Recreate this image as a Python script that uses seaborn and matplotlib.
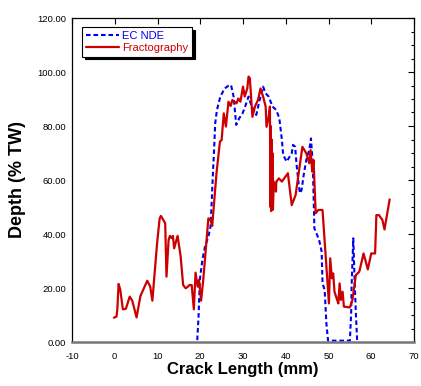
import numpy as np
import pandas as pd
import matplotlib
matplotlib.use("Agg")
import matplotlib.pyplot as plt
import seaborn as sns
from matplotlib.ticker import MultipleLocator

sns.set_theme(style="white")
plt.rcParams['font.family'] = ['Liberation Sans', 'DejaVu Sans']
plt.rcParams['axes.unicode_minus'] = False

# Fractography (red solid)
frac_x = [-0.2, 0.4, 0.6, 0.9, 1.3, 1.9, 2.6, 3.5, 4.1, 5.1, 6.0, 7.6, 8.3, 8.8, 9.9, 10.5, 10.8,
          11.8, 12.1, 12.6, 12.9, 13.3, 13.6, 13.9, 14.7, 15.4, 16.0, 16.6, 17.1, 17.5, 18.0, 18.5,
          18.9, 19.4, 19.7, 20.2, 20.7, 21.9, 22.4, 22.8, 23.8, 24.6, 25.0, 25.5, 26.0, 26.6, 27.1,
          27.5, 28.5, 28.9, 29.4, 30.0, 30.4, 31.0, 31.3, 31.6, 32.2, 32.8, 33.5, 34.1, 34.7, 35.3,
          35.5, 36.0, 36.3, 36.4, 36.5, 36.6, 36.7, 36.8, 36.9, 37.0, 37.2, 37.7, 37.8, 38.4, 39.1,
          40.5, 41.4, 42.3, 43.9, 44.8, 45.5, 45.8, 46.2, 46.5, 47.0, 47.6, 48.6, 50.1, 50.4, 50.8,
          51.1, 51.4, 51.9, 52.3, 52.6, 52.9, 53.3, 53.6, 55.0, 55.6, 56.4, 57.2, 58.2, 59.2, 60.0,
          60.9, 61.2, 61.8, 62.6, 63.1, 64.3]
frac_y = [9.0, 9.4, 12.1, 21.5, 19.3, 12.1, 12.3, 16.8, 15.3, 9.1, 17.0, 22.7, 20.5, 15.3, 36.5, 45.8, 46.7,
          44.0, 24.2, 37.8, 39.3, 38.5, 39.3, 34.7, 39.3, 31.9, 21.1, 19.9, 20.5, 21.1, 21.1, 12.1,
          25.7, 20.5, 23.0, 15.3, 23.0, 45.8, 45.2, 43.0, 62.5, 74.2, 74.8, 84.7, 79.8, 89.0, 87.4,
          89.6, 88.4, 90.2, 89.0, 94.6, 90.9, 93.9, 98.3, 97.7, 83.4, 87.2, 89.6, 93.9, 90.9, 87.2,
          79.7, 83.4, 87.2, 50.0, 80.0, 48.5, 75.0, 52.0, 70.0, 49.0, 59.4, 55.7, 59.4, 60.6, 59.4,
          62.5, 50.7, 54.4, 72.3, 69.9, 66.2, 71.1, 63.1, 67.4, 47.7, 48.9, 48.9, 14.3, 31.0, 23.6,
          25.4, 18.6, 16.2, 14.3, 21.7, 15.6, 18.6, 13.1, 12.8, 15.6, 24.8, 26.0, 32.8, 26.9, 32.8,
          32.8, 47.0, 47.0, 45.2, 41.7, 52.8]

# EC NDE (blue dashed)
ec_x = [19.3, 19.6, 19.9, 20.5, 21.1, 21.9, 22.4, 22.7, 23.0, 23.2, 23.5, 23.9, 24.7, 25.7, 26.5, 27.2,
        27.8, 28.1, 28.4, 29.1, 29.9, 30.5, 31.3, 31.9, 32.5, 33.1, 33.9, 34.7, 35.3, 36.0, 36.9,
        37.8, 38.5, 39.1, 39.4, 40.2, 41.4, 41.7, 42.2, 42.5, 43.0, 43.3, 43.7, 44.2, 44.8, 45.5,
        45.9, 46.2, 46.4, 46.7, 47.8, 48.4, 48.6, 49.1, 49.5, 49.9, 55.0, 55.3, 55.4, 55.8, 56.1,
        56.4, 56.7]
ec_y = [0.7, 9.4, 23.0, 30.4, 35.3, 39.0, 42.7, 52.6, 63.7, 69.9, 81.0, 85.9, 90.9, 93.9, 94.8, 95.2,
        90.9, 85.9, 80.4, 82.8, 84.7, 87.2, 90.9, 87.8, 85.9, 84.1, 89.6, 94.6, 92.1, 90.9, 87.2,
        85.9, 82.8, 74.8, 69.3, 66.8, 69.9, 73.0, 72.3, 66.2, 58.8, 55.1, 56.3, 61.9, 67.4, 71.1,
        75.4, 68.6, 61.2, 42.1, 37.8, 33.5, 21.7, 19.3, 6.9, 0.5, 0.5, 10.6, 20.5, 38.4, 23.0,
        10.6, 0.5]

fig = plt.figure(figsize=(4.21, 3.86), dpi=100)
ax = fig.add_axes([72/421, 1-342/386, (414-72)/421, (342-18)/386])

sns.lineplot(x=ec_x, y=ec_y, ax=ax, sort=False, estimator=None, color='#0000ee',
             linewidth=1.5, linestyle=(0, (2.2, 1.4)), label='EC NDE')
sns.lineplot(x=frac_x, y=frac_y, ax=ax, sort=False, estimator=None, color='#cc0000',
             linewidth=1.6, label='Fractography')

ax.set_xlim(-10, 70)
ax.set_ylim(0, 120)
ax.xaxis.set_major_locator(MultipleLocator(10))
ax.yaxis.set_major_locator(MultipleLocator(20))
ax.yaxis.set_minor_locator(MultipleLocator(5))
ax.yaxis.set_major_formatter(matplotlib.ticker.FormatStrFormatter('%.2f'))
ax.tick_params(axis='both', which='both', direction='in', top=True, right=True,
               labelsize=6.8, colors='black', length=4, width=0.8, pad=4)
ax.tick_params(axis='y', which='minor', length=2.5)
ax.tick_params(axis='x', which='major', pad=7)
for s in ax.spines.values():
    s.set_color('black')
    s.set_linewidth(0.9)
ax.spines['bottom'].set_color('#777777')
ax.spines['bottom'].set_linewidth(1.8)

ax.set_xlabel('Crack Length (mm)', fontsize=12, fontweight='bold', labelpad=1, color='black')
ax.set_ylabel('Depth (% TW)', fontsize=13, fontweight='bold', labelpad=8, color='black')

leg = ax.legend(loc='upper left', bbox_to_anchor=(0.029, 0.972), borderaxespad=0,
                fontsize=8, handlelength=3.0, handletextpad=0.3, labelspacing=0.15,
                borderpad=0.35, frameon=True, fancybox=False,
                shadow={'color': 'black', 'alpha': 1.0, 'ox': 2, 'oy': -2})
leg.get_frame().set_edgecolor('black')
leg.get_frame().set_linewidth(0.8)
for t, c in zip(leg.get_texts(), ['#0000ee', '#cc0000']):
    t.set_color(c)

fig.savefig('out.png', dpi=100)
